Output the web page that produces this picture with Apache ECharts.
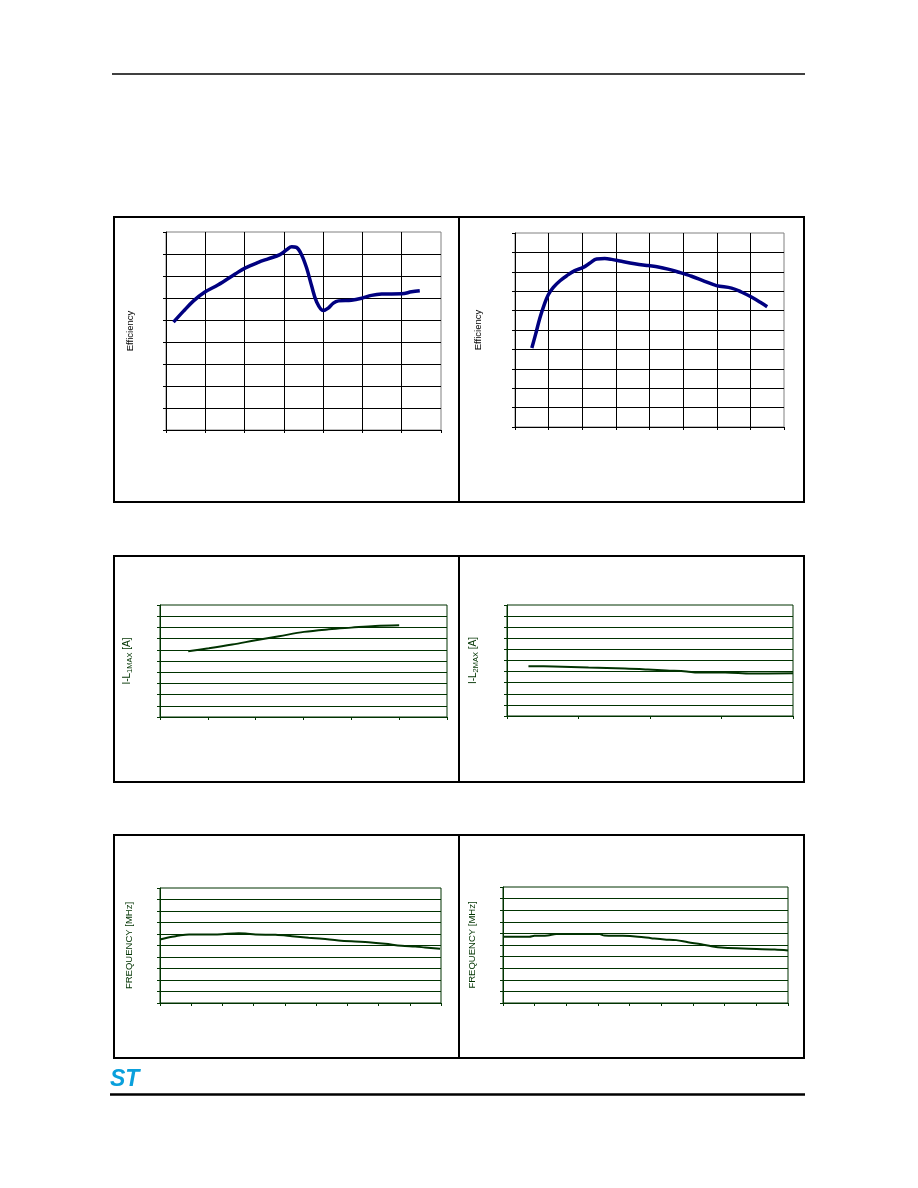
<!DOCTYPE html>
<html>
<head>
<meta charset="utf-8">
<script src="https://cdn.jsdelivr.net/npm/echarts@6/dist/echarts.min.js"></script>
<style>
html,body{margin:0;padding:0;background:#fff;}
#c{width:918px;height:1188px;}
</style>
</head>
<body>
<div id="c"></div>
<script>
// ---- Data (axis units; the reference has no tick labels) ----
var eff1X = [0.19,0.44,0.70,0.99,1.33,1.76,2.01,2.35,2.60,2.90,3.07,3.20,3.32,3.45,3.58,3.71,3.83,4.00,4.13,4.26,4.39,4.72,4.98,5.23,5.49,6.00,6.25,6.46];
var eff1Y = [4.90,5.39,5.87,6.27,6.60,7.09,7.36,7.62,7.78,7.97,8.19,8.33,8.30,7.97,7.36,6.53,5.84,5.43,5.54,5.77,5.87,5.90,5.99,6.12,6.18,6.19,6.28,6.33];

var eff2X = [0.50,0.61,0.74,0.87,0.99,1.14,1.34,1.54,1.78,2.03,2.23,2.43,2.67,2.87,3.17,3.56,3.96,4.26,4.55,4.85,5.25,5.64,5.99,6.44,6.73,7.03,7.33,7.50];
var eff2Y = [4.07,4.76,5.62,6.31,6.82,7.20,7.54,7.80,8.06,8.23,8.45,8.66,8.68,8.64,8.54,8.42,8.32,8.25,8.14,7.99,7.77,7.51,7.29,7.16,6.96,6.70,6.39,6.20];

var ilim1X = [0.59,1.02,1.51,2.00,2.49,3.01,3.53,4.00,4.50,5.00];
var ilim1Y = [5.88,6.14,6.47,6.85,7.21,7.60,7.83,7.98,8.13,8.19];

var ilim2X = [0.30,0.65,1.14,1.65,1.97,2.23,2.51,2.67,3.05,3.42,4.00];
var ilim2Y = [4.49,4.46,4.37,4.28,4.19,4.10,4.01,3.92,3.92,3.83,3.86];

var freq1X = [0,0.23,0.50,0.66,0.93,1.83,2.52,2.74,3.06,3.70,4.23,4.76,5.19,5.72,6.25,6.68,7.21,7.74,8.17,8.49,8.97];
var freq1Y = [5.52,5.67,5.81,5.90,5.96,5.96,6.07,6.05,5.96,5.93,5.81,5.67,5.58,5.44,5.35,5.29,5.15,4.97,4.91,4.83,4.71];

var freq2X = [0,0.83,0.99,1.41,1.68,3.05,3.20,3.78,4.26,4.68,5.10,5.47,5.84,6.26,6.58,6.89,7.58,8.58,9.00];
var freq2Y = [5.71,5.71,5.79,5.82,5.94,5.94,5.82,5.79,5.71,5.59,5.48,5.42,5.24,5.07,4.90,4.78,4.70,4.61,4.53];

var yLabelEff = 'Efficiency';
var yLabelI1 = '{a|I-L}{b|1MAX}{a| [A]}';
var yLabelI2 = '{a|I-L}{b|2MAX}{a| [A]}';
var yLabelF = 'FREQUENCY [MHz]';

function pairs(xs, ys){ return xs.map(function(x,i){ return [x, ys[i]]; }); }

var NAVY = '#000080', GREEN = '#003300', FONT = "'Liberation Sans', Arial, sans-serif";

// panel specs
var panels = [
  {grid:{left:166,top:232,width:275,height:198}, xMax:7, yMax:9, vgrid:true, color:'#000', border:'#808080', name:yLabelEff, gap:31, data:pairs(eff1X,eff1Y), lc:NAVY, lw:3.5},
  {grid:{left:515,top:233,width:269,height:194}, xMax:8, yMax:10, vgrid:true, color:'#000', border:'#808080', name:yLabelEff, gap:32, data:pairs(eff2X,eff2Y), lc:NAVY, lw:3.5},
  {grid:{left:160,top:605,width:287,height:112}, xMax:6, yMax:10, vgrid:false, color:GREEN, border:GREEN, name:yLabelI1, gap:26, data:pairs(ilim1X,ilim1Y), lc:GREEN, lw:2},
  {grid:{left:507,top:605,width:286,height:111}, xMax:4, yMax:10, vgrid:false, color:GREEN, border:GREEN, name:yLabelI2, gap:27, data:pairs(ilim2X,ilim2Y), lc:GREEN, lw:2},
  {grid:{left:160,top:888,width:281,height:115}, xMax:9, yMax:10, vgrid:false, color:GREEN, border:GREEN, name:yLabelF, gap:26, data:pairs(freq1X,freq1Y), lc:GREEN, lw:2},
  {grid:{left:503,top:887,width:285,height:116}, xMax:9, yMax:10, vgrid:false, color:GREEN, border:GREEN, name:yLabelF, gap:26, data:pairs(freq2X,freq2Y), lc:GREEN, lw:2}
];

var grids=[], xAxes=[], yAxes=[], series=[];
panels.forEach(function(p, i){
  grids.push(Object.assign({show:true, borderColor:p.border, borderWidth:1, backgroundColor:'transparent', containLabel:false}, p.grid));
  xAxes.push({type:'value', gridIndex:i, min:0, max:p.xMax, interval:1,
    axisLine:{show:true, onZero:false, lineStyle:{color:p.color, width:1}},
    axisTick:{show:true, length:3, lineStyle:{color:p.color}},
    axisLabel:{show:false},
    splitLine:{show:p.vgrid, showMinLine:false, showMaxLine:false, lineStyle:{color:p.color, width:1}}
  });
  var isRich = p.name.indexOf('{a|')===0;
  yAxes.push({type:'value', gridIndex:i, min:0, max:p.yMax, interval:1,
    name:p.name, nameLocation:'middle', nameRotate:90, nameGap:p.gap,
    nameTextStyle: isRich ? {color:p.color, fontFamily:FONT,
        rich:{a:{fontSize:10, color:p.color, fontFamily:FONT, lineHeight:14, verticalAlign:'middle'},
              b:{fontSize:7.5, color:p.color, fontFamily:FONT, lineHeight:14, verticalAlign:'bottom', padding:[4,0,0,0]}}}
      : {color:p.color, fontSize:9.5, fontFamily:FONT},
    axisLine:{show:true, onZero:false, lineStyle:{color:p.color, width:1}},
    axisTick:{show:true, length:3, lineStyle:{color:p.color}},
    axisLabel:{show:false},
    splitLine:{show:true, showMinLine:false, showMaxLine:false, lineStyle:{color:p.color, width:1}}
  });
  series.push({type:'line', xAxisIndex:i, yAxisIndex:i, data:p.data, smooth:0.35, showSymbol:false, symbol:'none',
    lineStyle:{color:p.lc, width:p.lw}, silent:true, animation:false, z:5});
});

function box(x1,y1,x2,y2){
  return {type:'rect', shape:{x:x1,y:y1,width:x2-x1,height:y2-y1}, style:{fill:null, stroke:'#000', lineWidth:2}, silent:true};
}
function line(x1,y1,x2,y2,w){
  return {type:'line', shape:{x1:x1,y1:y1,x2:x2,y2:y2}, style:{stroke:'#000', lineWidth:w}, silent:true};
}

var graphics = [
  line(112,74,805,74,1.5),
  box(114,217,804,502), line(459,217,459,502,2),
  box(114,556,804,782), line(459,556,459,782,2),
  box(114,835,804,1058), line(459,835,459,1058,2),
  line(110,1094.5,805,1094.5,2.5),
  {type:'text', left:110, top:1068, style:{text:'ST', fontSize:23, fontWeight:'bold', fontStyle:'italic', fontFamily:FONT, fill:'#0aa0dc'}, silent:true}
];

var chart = echarts.init(document.getElementById('c'), null, {renderer:'canvas', width:918, height:1188});
chart.setOption({
  animation:false,
  backgroundColor:'#ffffff',
  grid:grids, xAxis:xAxes, yAxis:yAxes, series:series,
  graphic:graphics
});
</script>
</body>
</html>
